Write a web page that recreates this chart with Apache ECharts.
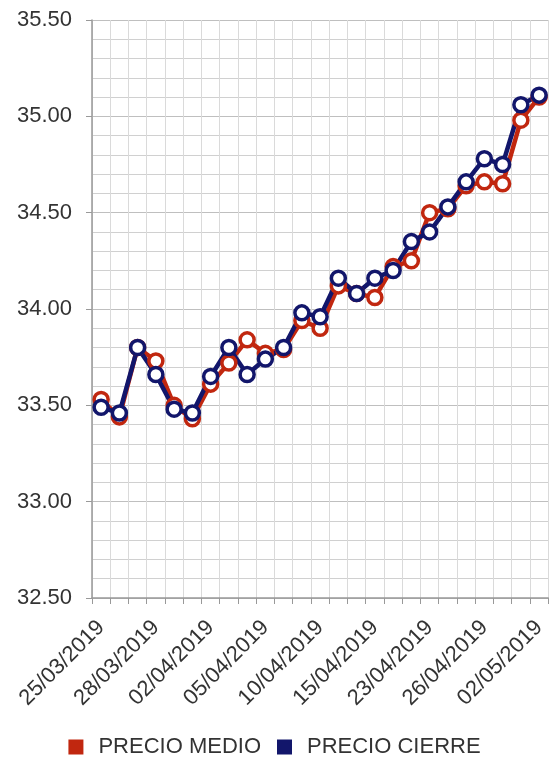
<!DOCTYPE html>
<html>
<head>
<meta charset="utf-8">
<script src="https://cdn.jsdelivr.net/npm/echarts@6/dist/echarts.min.js"></script>
<style>
  html, body { margin: 0; padding: 0; background: #fff; }
  #chart { width: 549px; height: 769px; }
</style>
</head>
<body>
<div id="chart"></div>
<script>
// fechas de cotización
const fechas = ['25/03/2019', '26/03/2019', '27/03/2019', '28/03/2019', '29/03/2019',
  '01/04/2019', '02/04/2019', '03/04/2019', '04/04/2019', '05/04/2019',
  '08/04/2019', '09/04/2019', '10/04/2019', '11/04/2019', '12/04/2019',
  '15/04/2019', '16/04/2019', '17/04/2019', '23/04/2019', '24/04/2019',
  '25/04/2019', '26/04/2019', '29/04/2019', '30/04/2019', '02/05/2019']

const precioMedio = [33.53, 33.44, 33.80, 33.73, 33.50, 33.43, 33.61, 33.72, 33.84, 33.77,
  33.79, 33.94, 33.90, 34.12, 34.08, 34.06, 34.22, 34.25, 34.50, 34.52,
  34.64, 34.66, 34.65, 34.98, 35.10]

const precioCierre = [33.49, 33.46, 33.80, 33.66, 33.48, 33.46, 33.65, 33.80, 33.66, 33.74,
  33.80, 33.98, 33.96, 34.16, 34.08, 34.16, 34.20, 34.35, 34.40, 34.53,
  34.66, 34.78, 34.75, 35.06, 35.11]

const nombres = ['PRECIO MEDIO', 'PRECIO CIERRE']
const colores = ['#c1270f', '#12166b']

const font = 'Liberation Sans, Arial, sans-serif'

let myChart = echarts.init(document.getElementById('chart'))

const lineSeries = (name, data, color) => ({
  name: name,
  type: 'line',
  data: data,
  xAxisIndex: 0,
  symbol: 'circle',
  symbolSize: 14,
  showSymbol: true,
  showAllSymbol: true,
  lineStyle: { color: color, width: 4.5 },
  itemStyle: { color: '#fff', borderColor: color, borderWidth: 3.5 },
  emphasis: { disabled: true }
})

let option = {
  animation: false,
  textStyle: { fontFamily: font },
  grid: { left: 92, right: 0, top: 20, bottom: 171 },
  legend: {
    bottom: 6,
    left: 'center',
    icon: 'rect',
    itemWidth: 15,
    itemHeight: 15,
    itemGap: 16,
    data: nombres.map((n, i) => ({ name: n, itemStyle: { color: colores[i], borderWidth: 0 } })),
    textStyle: { fontSize: 22, color: '#333', fontFamily: font, padding: [0, 0, 0, 10] }
  },
  xAxis: [
    {
      type: 'category',
      data: fechas,
      boundaryGap: true,
      axisLine: { lineStyle: { color: '#999', width: 1.5 } },
      axisTick: { show: true, interval: 0, length: 6, lineStyle: { color: '#999' } },
      axisLabel: { interval: 2, rotate: 45, fontSize: 22, color: '#333', margin: 26, fontFamily: font },
      splitLine: { show: true, interval: 0, lineStyle: { color: '#bfbfbf', width: 1 } }
    },
    {
      // líneas verticales intermedias
      type: 'value',
      min: -0.5,
      max: 24.5,
      interval: 1,
      position: 'bottom',
      axisLine: { show: false },
      axisTick: { show: false },
      axisLabel: { show: false },
      splitLine: { show: true, lineStyle: { color: '#dadada', width: 1 } }
    }
  ],
  yAxis: {
    type: 'value',
    min: 32.5,
    max: 35.5,
    interval: 0.5,
    axisLine: { show: true, onZero: false, lineStyle: { color: '#999', width: 1.5 } },
    axisTick: { show: true, length: 6, lineStyle: { color: '#999' } },
    axisLabel: { fontSize: 22, color: '#333', margin: 20, fontFamily: font, formatter: v => v.toFixed(2) },
    splitLine: { show: true, lineStyle: { color: '#bfbfbf', width: 1 } },
    minorTick: { show: false, splitNumber: 5 },
    minorSplitLine: { show: true, lineStyle: { color: '#d0d0d0', width: 1 } }
  },
  series: [
    lineSeries(nombres[0], precioMedio, colores[0]),
    lineSeries(nombres[1], precioCierre, colores[1])
  ]
}

myChart.setOption(option)
</script>
</body>
</html>
